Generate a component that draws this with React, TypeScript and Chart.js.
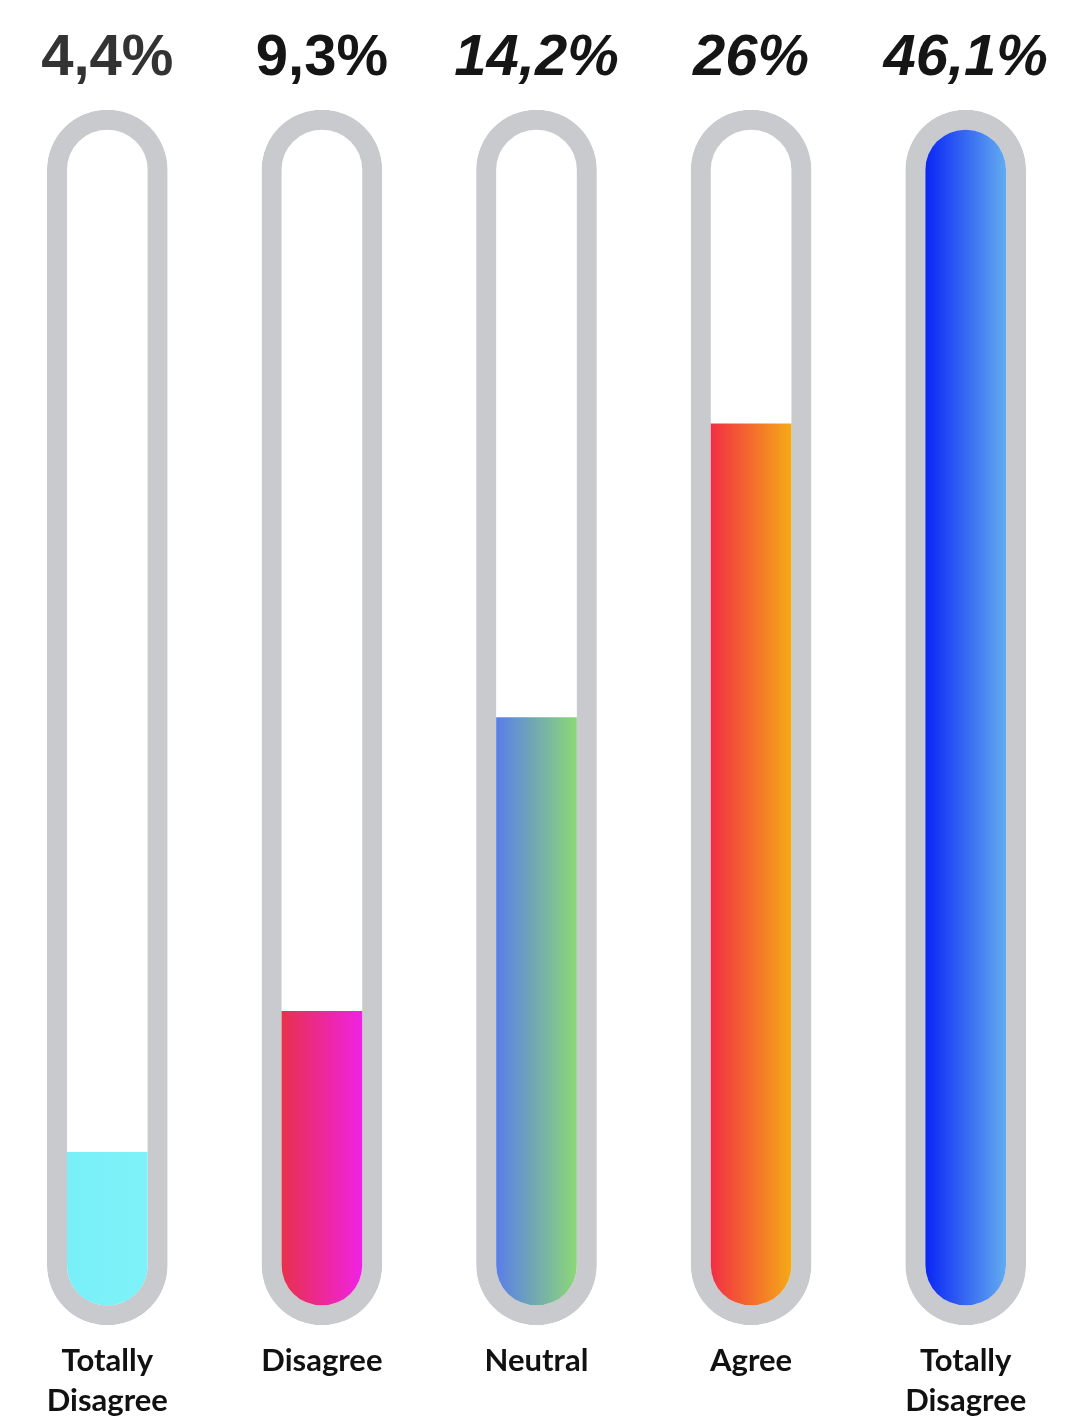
import React, { useEffect, useRef } from "react";
import { Chart, registerables } from "chart.js";

Chart.register(...registerables);

const categories: string[][] = [
  ["Totally", "Disagree"],
  ["Disagree"],
  ["Neutral"],
  ["Agree"],
  ["Totally", "Disagree"],
];
const percentValues: number[] = [4.4, 9.3, 14.2, 26, 46.1];
const percentLabels: string[] = percentValues.map((v) => String(v).replace(".", ",") + "%");
// visual fill level of each tube (0-100)
const fillLevels: number[] = [13, 25, 50, 75, 100];
const gradientLeft: string[] = ["#79eff8", "#e8304c", "#5a7ee8", "#f22e44", "#0b26f4"];
const gradientRight: string[] = ["#7df2f8", "#f022e4", "#8cd876", "#f5aa16", "#62abf0"];
const labelItalic: boolean[] = [false, false, true, true, true];

const TUBE_PAD = 1.7;

export default function App() {
  const ref = useRef<HTMLCanvasElement | null>(null);

  useEffect(() => {
    document.body.style.margin = "0";
    const canvas = ref.current;
    if (!canvas) return;
    const fillData = fillLevels.map((v) => [0, v]);
    const tubeData = fillLevels.map(() => [-TUBE_PAD, 100 + TUBE_PAD]);

    const chart = new Chart(canvas, {
      type: "bar",
      data: {
        labels: categories,
        datasets: [
          {
            label: "fill",
            data: fillData as any,
            order: 1,
            grouped: false,
            barThickness: 80,
            borderWidth: 0,
            borderSkipped: false,
            borderRadius: (c: any) => {
              const full = fillLevels[c.dataIndex] >= 100;
              return {
                topLeft: full ? 40 : 0,
                topRight: full ? 40 : 0,
                bottomLeft: 40,
                bottomRight: 40,
              };
            },
            backgroundColor: (c: any) => {
              const i = c.dataIndex;
              if (i === undefined) return "#888";
              const chart = c.chart;
              const xs = chart.scales && chart.scales.x;
              if (!xs || !chart.chartArea) return gradientLeft[i];
              const x = xs.getPixelForValue(i);
              const g = chart.ctx.createLinearGradient(x - 40, 0, x + 40, 0);
              g.addColorStop(0, gradientLeft[i]);
              g.addColorStop(1, gradientRight[i]);
              return g;
            },
          } as any,
          {
            label: "tube",
            data: tubeData as any,
            order: 2,
            grouped: false,
            barThickness: 120,
            backgroundColor: "#ffffff",
            borderColor: "#c9cacd",
            borderWidth: 20,
            borderRadius: 60,
            borderSkipped: false,
          } as any,
        ],
      },
      options: {
        animation: false,
        responsive: false,
        devicePixelRatio: 1,
        layout: { padding: 0 },
        plugins: {
          legend: { display: false },
          tooltip: { enabled: false },
          title: { display: false },
        },
        scales: {
          x: {
            position: "bottom",
            grid: { display: false },
            border: { display: false },
            ticks: {
              color: "#111111",
              padding: 8,
              maxRotation: 0,
              autoSkip: false,
              font: { family: "Lato", weight: "bold", size: 31, lineHeight: 1.28 },
            },
            afterFit: (s: any) => {
              s.height = 95;
            },
          },
          x2: {
            type: "category",
            position: "top",
            labels: percentLabels,
            grid: { display: false },
            border: { display: false },
            ticks: {
              color: (c: any) => (c.index === 0 ? "#333333" : "#151515"),
              padding: 8,
              maxRotation: 0,
              autoSkip: false,
              font: (c: any) => ({
                family: "Liberation Sans",
                weight: "bold",
                style: labelItalic[c.index] ? "italic" : "normal",
                size: 58,
                lineHeight: 1.2,
              }),
            },
            afterFit: (s: any) => {
              s.height = 110;
            },
          },
          y: {
            display: false,
            min: -TUBE_PAD,
            max: 100 + TUBE_PAD,
          },
        },
      } as any,
    });
    return () => chart.destroy();
  }, []);

  return (
    <div style={{ width: 1073, height: 1420, background: "#ffffff" }}>
      <canvas ref={ref} width={1073} height={1420} />
    </div>
  );
}
